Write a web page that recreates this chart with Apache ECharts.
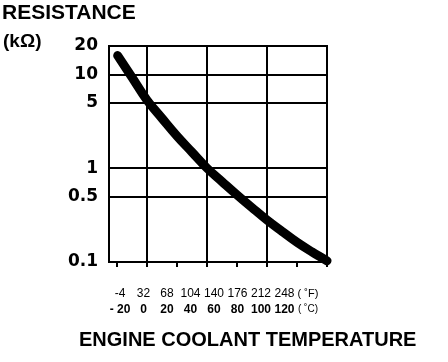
<!DOCTYPE html>
<html>
<head>
<meta charset="utf-8">
<script src="https://cdn.jsdelivr.net/npm/echarts@6/dist/echarts.min.js"></script>
<style>html,body{margin:0;padding:0;background:#fff;}#c{width:448px;height:362px;}</style>
</head>
<body>
<div id="c"></div>
<script>
// Data
const tempC = [-19.5, -10, 0, 10, 20, 30, 40, 50, 60, 70, 80, 90, 100, 110, 120];
const resistance = [15.8, 9.3, 5.3, 3.4, 2.2, 1.48, 1.0, 0.72, 0.52, 0.38, 0.28, 0.212, 0.162, 0.128, 0.103];
const yTickValues = [0.1, 0.5, 1, 5, 10, 20];
const xTickValues = [-20, 0, 20, 40, 60, 80, 100, 120];
const xGridValues = [0, 40, 80];
const yGridValues = [10, 5, 1, 0.5];
const fahrenheitLabels = ['-4', '32', '68', '104', '140', '176', '212', '248', '( \u02DAF)'];
const celsiusLabels = ['- 20', '0', '20', '40', '60', '80', '100', '120', '( \u02DAC)'];

const chart = echarts.init(document.getElementById('c'), null, {renderer: 'canvas'});
const font = 'Liberation Sans, Arial, sans-serif';
const unitFmt = v => v.charAt(0) === '(' ? '{u|' + v + '}' : v;

const option = {
  animation: false,
  backgroundColor: '#fff',
  title: [
    {text: 'RESISTANCE', left: 2, top: 3, padding: 0, textStyle: {fontFamily: font, fontWeight: 'bold', fontSize: 21, color: '#000'}},
    {text: '(k\u03A9)', left: 3, top: 32, padding: 0, textStyle: {fontFamily: font, fontWeight: 'bold', fontSize: 19, color: '#000'}},
    {text: 'ENGINE COOLANT TEMPERATURE', left: 79, top: 330, padding: 0, textStyle: {fontFamily: font, fontWeight: 'bold', fontSize: 20, color: '#000'}}
  ],
  grid: [
    {left: 109, top: 46, width: 218, height: 216, show: true, borderColor: '#000', borderWidth: 2, backgroundColor: 'transparent'},
    {left: 120, top: 46, width: 188, height: 216, show: false}
  ],
  xAxis: [
    {
      type: 'value', gridIndex: 0, min: -25.3, max: 120,
      axisLine: {show: true, lineStyle: {color: '#000', width: 2}},
      axisTick: {show: true, customValues: xTickValues, length: 5, lineStyle: {color: '#000', width: 2}},
      axisLabel: {show: false},
      splitLine: {show: false}
    },
    {
      type: 'category', gridIndex: 1, data: fahrenheitLabels, boundaryGap: false, position: 'bottom',
      axisLine: {show: false}, axisTick: {show: false}, splitLine: {show: false},
      axisLabel: {show: true, interval: 0, margin: 26, color: '#000', fontFamily: font, fontSize: 12,
        formatter: unitFmt, rich: {u: {fontFamily: font, fontSize: 11, color: '#000'}}}
    },
    {
      type: 'category', gridIndex: 1, data: celsiusLabels, boundaryGap: false, position: 'bottom',
      axisLine: {show: false}, axisTick: {show: false}, splitLine: {show: false},
      axisLabel: {show: true, interval: 0, margin: 42, color: '#000', fontFamily: font, fontSize: 12, fontWeight: 'bold',
        formatter: unitFmt, rich: {u: {fontFamily: font, fontSize: 10, fontWeight: 'normal', color: '#000'}}}
    }
  ],
  yAxis: [
    {
      type: 'log', logBase: 10, gridIndex: 0, min: 0.1, max: 20,
      axisLine: {show: true, lineStyle: {color: '#000', width: 2}},
      axisTick: {show: true, customValues: yTickValues, length: 6, lineStyle: {color: '#000', width: 2}},
      axisLabel: {show: true, customValues: yTickValues, margin: 11, color: '#000',
        fontFamily: 'DejaVu Sans, sans-serif', fontWeight: 'bold', fontSize: 17,
        formatter: v => String(v)},
      splitLine: {show: false}
    },
    {type: 'value', gridIndex: 1, show: false}
  ],
  series: [
    {
      type: 'line', xAxisIndex: 0, yAxisIndex: 0,
      data: tempC.map((t, i) => [t, resistance[i]]),
      smooth: 0.4, symbol: 'none',
      lineStyle: {color: '#000', width: 9, cap: 'round', join: 'round'},
      z: 5,
      markLine: {
        silent: true, symbol: 'none', label: {show: false}, animation: false,
        data: [
          ...xGridValues.map(v => ({xAxis: v, lineStyle: {color: '#000', width: 2, type: 'solid', opacity: 1}})),
          ...yGridValues.map(v => ({yAxis: v, lineStyle: {color: '#000', width: 2, type: 'solid', opacity: 1}}))
        ]
      }
    }
  ]
};
chart.setOption(option);
</script>
</body>
</html>
